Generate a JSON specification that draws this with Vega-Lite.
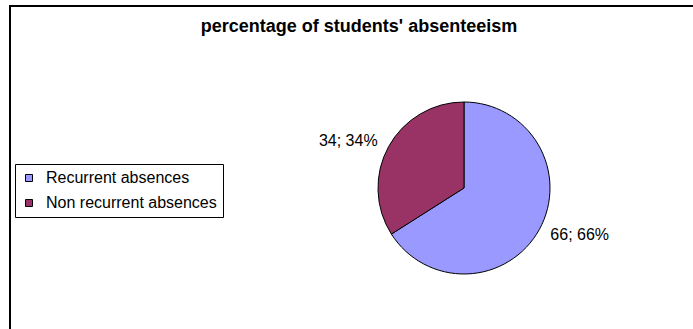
{
  "$schema": "https://vega.github.io/schema/vega-lite/v6.json",
  "autosize": {"type": "none"},
  "padding": {"left": 10, "top": 6, "right": -225, "bottom": -41},
  "width": 908,
  "height": 364,
  "background": "white",
  "config": {"view": {"stroke": null}, "font": "Liberation Sans"},
  "title": {
    "text": "percentage of students' absenteeism",
    "font": "Liberation Sans",
    "fontSize": 18,
    "fontWeight": "bold",
    "color": "black",
    "anchor": "middle",
    "frame": "group",
    "offset": 0,
    "baseline": "middle",
    "dx": -105,
    "dy": 40
  },
  "datasets": {
    "slices": [
      {"category": "Recurrent absences", "value": 66, "order": 1, "label": "66; 66%"},
      {"category": "Non recurrent absences", "value": 34, "order": 2, "label": "34; 34%"}
    ],
    "frame": [{"name": "chart area"}]
  },
  "layer": [
    {
      "data": {"name": "frame"},
      "mark": {"type": "rect", "fill": "white", "stroke": "black", "strokeWidth": 2},
      "encoding": {}
    },
    {
      "data": {"name": "slices"},
      "mark": {"type": "arc", "radius": 86, "stroke": "black", "strokeWidth": 1},
      "encoding": {
        "theta": {"field": "value", "type": "quantitative", "stack": true},
        "order": {"field": "order", "type": "quantitative"},
        "color": {
          "field": "category",
          "type": "nominal",
          "scale": {"domain": ["Recurrent absences", "Non recurrent absences"], "range": ["#9999FF", "#993366"]},
          "legend": {
            "title": null,
            "orient": "none",
            "legendX": 5,
            "legendY": 158,
            "padding": 6,
            "strokeColor": "black",
            "fillColor": "white",
            "symbolType": "square",
            "symbolSize": 49,
            "symbolStrokeColor": "black",
            "symbolStrokeWidth": 1,
            "symbolOpacity": 1,
            "labelFont": "Liberation Sans",
            "labelFontSize": 16,
            "labelColor": "black",
            "labelOffset": 9,
            "labelLimit": 400,
            "rowPadding": 9
          }
        }
      }
    },
    {
      "data": {"name": "slices"},
      "mark": {"type": "text", "radius": 125, "thetaOffset": -0.115, "fontSize": 16, "font": "Liberation Sans", "color": "black"},
      "encoding": {
        "theta": {"field": "value", "type": "quantitative", "stack": true},
        "order": {"field": "order", "type": "quantitative"},
        "text": {"field": "label", "type": "nominal"}
      }
    }
  ]
}
